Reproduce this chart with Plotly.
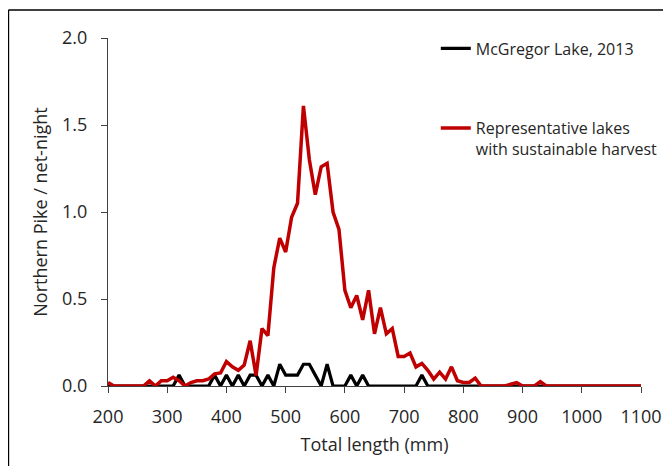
import plotly.graph_objects as go

# Length classes (mm), 10-mm bins
length_mm = list(range(200, 1110, 10))

# Catch per net-night, McGregor Lake 2013
mcgregor_2013 = [
    0, 0, 0, 0, 0, 0, 0, 0, 0, 0,            # 200-290
    0, 0, 0.0625, 0, 0, 0, 0, 0, 0.0625, 0,  # 300-390
    0.0625, 0, 0.0625, 0, 0.0625, 0.0625, 0, 0.0625, 0, 0.125,  # 400-490
    0.0625, 0.0625, 0.0625, 0.125, 0.125, 0.0625, 0, 0.125, 0, 0,  # 500-590
    0, 0.0625, 0, 0.0625, 0, 0, 0, 0, 0, 0,  # 600-690
    0, 0, 0, 0.0625, 0, 0, 0, 0, 0, 0,       # 700-790
    0, 0, 0, 0, 0, 0, 0, 0, 0, 0,            # 800-890
    0, 0, 0, 0, 0, 0, 0, 0, 0, 0,            # 900-990
    0, 0, 0, 0, 0, 0, 0, 0, 0, 0,            # 1000-1090
    0,                                       # 1100
]

# Catch per net-night, representative lakes with sustainable harvest
representative = [
    0.02, 0, 0, 0, 0, 0, 0, 0.03, 0, 0.03,            # 200-290
    0.03, 0.05, 0.03, 0, 0.02, 0.03, 0.03, 0.04, 0.07, 0.075,  # 300-390
    0.14, 0.11, 0.09, 0.12, 0.26, 0.06, 0.33, 0.29, 0.68, 0.85,  # 400-490
    0.77, 0.97, 1.05, 1.61, 1.30, 1.10, 1.26, 1.28, 1.00, 0.90,  # 500-590
    0.55, 0.45, 0.52, 0.38, 0.55, 0.30, 0.45, 0.30, 0.33, 0.17,  # 600-690
    0.17, 0.19, 0.11, 0.13, 0.09, 0.04, 0.08, 0.04, 0.11, 0.03,  # 700-790
    0.02, 0.02, 0.045, 0, 0, 0, 0, 0, 0.01, 0.02,     # 800-890
    0, 0, 0, 0.025, 0, 0, 0, 0, 0, 0,                 # 900-990
    0, 0, 0, 0, 0, 0, 0, 0, 0, 0,                     # 1000-1090
    0,                                                # 1100
]

x_ticks = [200, 300, 400, 500, 600, 700, 800, 900, 1000, 1100]
y_ticks = [0, 0.5, 1.0, 1.5, 2.0]
y_tick_labels = ["0.0", "0.5", "1.0", "1.5", "2.0"]

FONT = "Open Sans"
TXT = "#262626"

fig = go.Figure()
fig.add_trace(go.Scatter(
    x=length_mm, y=mcgregor_2013, mode="lines",
    name="McGregor Lake, 2013",
    line=dict(color="#000000", width=3.2),
    legend="legend", showlegend=True,
))
fig.add_trace(go.Scatter(
    x=length_mm, y=representative, mode="lines",
    name="Representative lakes<br>with sustainable harvest",
    line=dict(color="#C00000", width=3.5),
    legend="legend2", showlegend=True,
))

fig.update_layout(
    width=671, height=466,
    showlegend=True,
    margin=dict(l=100, r=38, t=30, b=88, autoexpand=False),
    paper_bgcolor="white", plot_bgcolor="white",
    font=dict(family=FONT, size=18, color=TXT),
    legend=dict(
        x=0.615, y=1.0185, xanchor="left", yanchor="top",
        font=dict(family=FONT, size=16, color=TXT),
        bgcolor="rgba(0,0,0,0)", borderwidth=0,
    ),
    legend2=dict(
        x=0.615, y=0.79, xanchor="left", yanchor="top",
        font=dict(family=FONT, size=16, color=TXT),
        bgcolor="rgba(0,0,0,0)", borderwidth=0, valign="top",
    ),
    xaxis=dict(
        range=[200, 1100], tickvals=x_ticks,
        showline=True, linecolor="#404040", linewidth=1.3,
        ticks="outside", ticklen=6, tickcolor="#404040", tickwidth=1.3,
        showgrid=False, zeroline=False, ticklabelstandoff=8,
        tickfont=dict(family=FONT, size=18, color=TXT),
        title=dict(text="Total length (mm)", font=dict(family=FONT, size=18, color=TXT), standoff=11),
    ),
    yaxis=dict(
        range=[0, 2.0], tickvals=y_ticks, ticktext=y_tick_labels,
        showline=True, linecolor="#404040", linewidth=1.3,
        ticks="outside", ticklen=6, tickcolor="#404040", tickwidth=1.3,
        showgrid=False, zeroline=False, ticklabelstandoff=10,
        tickfont=dict(family=FONT, size=18, color=TXT),
        title=dict(text="Northern Pike / net-night", font=dict(family=FONT, size=18, color=TXT), standoff=9),
    ),
    shapes=[
        dict(type="line", xref="paper", yref="paper", x0=-0.1868, x1=-0.1868, y0=-0.4, y1=1.0805,
             line=dict(color="#000000", width=1.5)),
        dict(type="line", xref="paper", yref="paper", x0=-0.1868, x1=1.2, y0=1.0805, y1=1.0805,
             line=dict(color="#000000", width=1.5)),
    ],
)

fig.write_html("out.html")
